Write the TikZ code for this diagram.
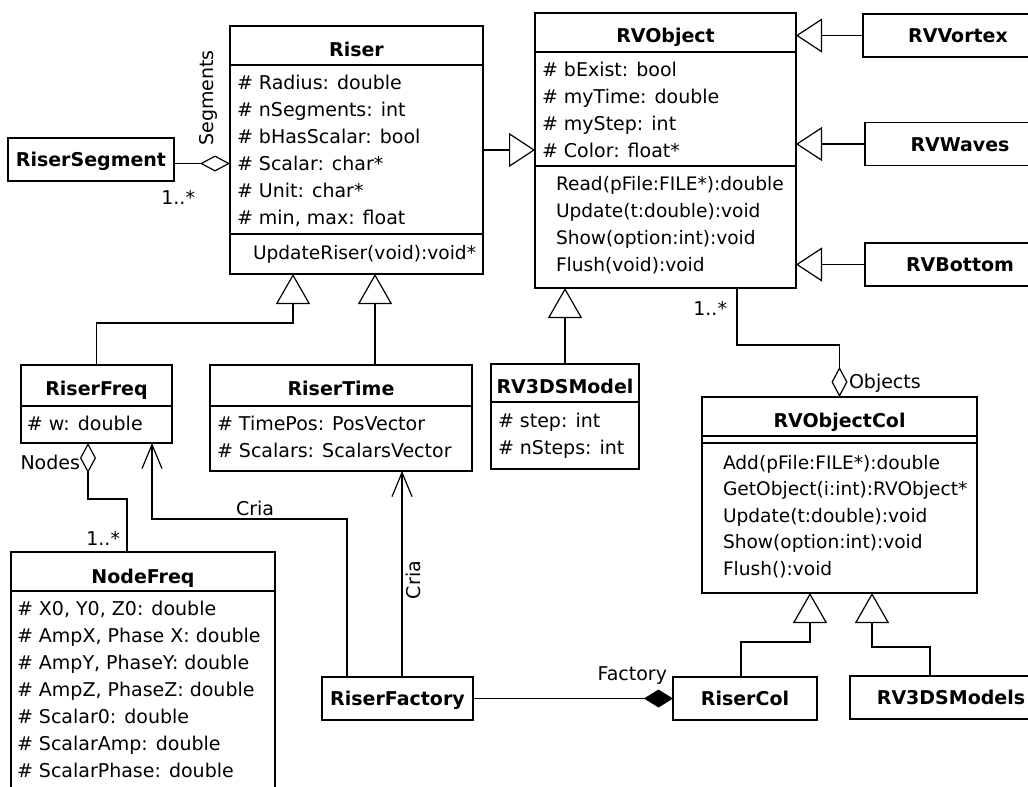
\documentclass[tikz,border=0pt]{standalone}
\usepackage{fontspec}
\setmainfont{DejaVu Sans}
\usetikzlibrary{arrows.meta}

% one text line per row of a class compartment
\newcommand\classrows[6]{%
  \foreach \t [count=\i] in {#6} {\node[#1] (#2-\i) at (#3, {#4+#5*(\i-1)}) {\t};}}
% horizontal divider inside a class box, #2 below its top edge
\newcommand\compline[2]{%
  \draw ([yshift=-#2pt]#1.north west) -- ([yshift=-#2pt]#1.north east);}

\begin{document}
\begin{tikzpicture}[x=1pt, y=-1pt, line width=1.2pt,
  every node/.style={inner sep=0pt, outer sep=0pt},
  box/.style={draw, anchor=north west},
  simple/.style={draw, font=\fontsize{19}{23}\selectfont\bfseries,
    text height=14pt, text depth=0pt, minimum height=43pt},
  ttl/.style={font=\fontsize{19}{23}\selectfont\bfseries, anchor=base},
  attr/.style={font=\fontsize{19}{23}\selectfont, anchor=base west},
  meth/.style={font=\fontsize{18.6}{23}\selectfont, anchor=base west},
  lbl/.style={font=\fontsize{19}{23}\selectfont},
  gen/.style={-{Triangle[open, length=26pt, width=34pt]}},
  genv/.style={-{Triangle[open, length=30pt, width=34pt]}},
  agg/.style={{Diamond[open, length=30pt, width=16pt]}-},
  comp/.style={{Diamond[length=29pt, width=18pt]}-},
  dep/.style={-{Straight Barb[length=24pt, width=20pt]}},
]
\useasboundingbox (0,0) rectangle (1028,787);
\fill[white] (0,0) rectangle (1028,787);
\clip (0,0) rectangle (1028,787);

% ---------- Riser ----------
\node[box, minimum width=253pt, minimum height=248pt] (riser) at (230,26) {};
\node[ttl] (riser-t) at (356.5,56) {Riser};
\compline{riser}{39}
\classrows{attr}{riser-a}{237}{89}{27}{{\# Radius: double},{\# nSegments: int},{\# bHasScalar: bool},{\# Scalar: char*},{\# Unit: char*},{\# min, max: float}}
\compline{riser}{208}
\classrows{meth}{riser-m}{253}{259}{27}{{UpdateRiser(void):void*}}

% ---------- RVObject ----------
\node[box, minimum width=261pt, minimum height=275pt] (rvobject) at (535,13) {};
\node[ttl] (rvobject-t) at (665.5,42) {RVObject};
\compline{rvobject}{39}
\classrows{attr}{rvobject-a}{542}{76}{27}{{\# bExist: bool},{\# myTime: double},{\# myStep: int},{\# Color: float*}}
\compline{rvobject}{153}
\classrows{meth}{rvobject-m}{556}{190}{27}{{Read(pFile:FILE*):double},{Update(t:double):void},{Show(option:int):void},{Flush(void):void}}

% ---------- RiserFreq ----------
\node[box, minimum width=151pt, minimum height=78pt] (riserfreq) at (21,365) {};
\node[ttl] (riserfreq-t) at (96.5,395) {RiserFreq};
\compline{riserfreq}{41}
\classrows{attr}{riserfreq-a}{27}{430}{27}{{\# w: double}}

% ---------- RiserTime ----------
\node[box, minimum width=262pt, minimum height=106pt] (risertime) at (210,365) {};
\node[ttl] (risertime-t) at (341,395) {RiserTime};
\compline{risertime}{41}
\classrows{attr}{risertime-a}{217}{430}{27}{{\# TimePos: PosVector},{\# Scalars: ScalarsVector}}

% ---------- RV3DSModel ----------
\node[box, minimum width=148pt, minimum height=105pt] (rv3ds) at (491,364) {};
\node[ttl] (rv3ds-t) at (565,393) {RV3DSModel};
\compline{rv3ds}{38}
\classrows{attr}{rv3ds-a}{498}{427}{27}{{\# step: int},{\# nSteps: int}}

% ---------- NodeFreq ----------
\node[box, minimum width=264pt, minimum height=260pt] (nodefreq) at (11,552) {};
\node[ttl] (nodefreq-t) at (143,583) {NodeFreq};
\compline{nodefreq}{39}
\classrows{attr}{nodefreq-a}{17}{615}{27}{{\# X0, Y0, Z0: double},{\# AmpX, Phase X: double},{\# AmpY, PhaseY: double},{\# AmpZ, PhaseZ: double},{\# Scalar0: double},{\# ScalarAmp: double},{\# ScalarPhase: double}}

% ---------- RVObjectCol ----------
\node[box, minimum width=275pt, minimum height=196pt] (rvobjcol) at (702,397) {};
\node[ttl] (rvobjcol-t) at (839.5,427) {RVObjectCol};
\compline{rvobjcol}{39}
\compline{rvobjcol}{46}
\classrows{meth}{rvobjcol-m}{723}{469}{26.5}{{Add(pFile:FILE*):double},{GetObject(i:int):RVObject*},{Update(t:double):void},{Show(option:int):void},{Flush():void}}

% ---------- name-only classes ----------
\node[simple, minimum width=166pt] (riserseg) at (91,159.5) {RiserSegment};
\node[simple, minimum width=190pt] (rvvortex) at (958,35.5) {RVVortex};
\node[simple, minimum width=190pt] (rvwaves) at (960,144) {RVWaves};
\node[simple, minimum width=190pt] (rvbottom) at (960,264.5) {RVBottom};
\node[simple, minimum width=151pt] (riserfactory) at (397.5,698.5) {RiserFactory};
\node[simple, minimum width=144pt] (risercol) at (745,698.5) {RiserCol};
\node[simple, minimum width=202pt] (rv3dsmodels) at (951,697.5) {RV3DSModels};

% ---------- generalizations ----------
\draw[gen] (riser.east) -- (riser.east -| rvobject.west);
\draw[gen] (rvvortex.west) -- (rvvortex.west -| rvobject.east);
\draw[gen] (rvwaves.west) -- (rvwaves.west -| rvobject.east);
\draw[gen] (rvbottom.west) -- (rvbottom.west -| rvobject.east);
\draw[genv] (riserfreq.north) -- ++(0,-42) -| ([xshift=-63.5pt]riser.south);
\coordinate (rtTop) at ([xshift=34pt]risertime.north);
\draw[genv] (rtTop) -- (rtTop |- riser.south);
\draw[genv] (rv3ds.north) -- (rv3ds.north |- rvobject.south);
\draw[genv] ([xshift=-4pt]risercol.north) -- ++(0,-35) -| ([xshift=-29.5pt]rvobjcol.south);
\draw[genv] ([xshift=-21pt]rv3dsmodels.north) -- ++(0,-29) -| ([xshift=32.5pt]rvobjcol.south);

% ---------- aggregations / composition ----------
\coordinate (segY) at ([yshift=-4pt]riserseg.east);
\draw[agg] (segY -| riser.west) -- (segY);
\draw[agg] ([xshift=-8.5pt]riserfreq.south) -- ++(0,56) -| ([xshift=-16pt]nodefreq.north);
\draw[agg] (rvobjcol.north) -- ++(0,-52) -| ([xshift=71.5pt]rvobject.south);
\draw[comp] (risercol.west) -- (riserfactory.east);

% ---------- dependencies ----------
\draw[dep] ([xshift=-50.5pt]riserfactory.north) -- ++(0,-158) -| ([xshift=55.5pt]riserfreq.south);
\coordinate (rfTop) at ([xshift=4.5pt]riserfactory.north);
\draw[dep] (rfTop) -- (rfTop |- risertime.south);

% ---------- role and multiplicity labels ----------
\node[lbl, rotate=90] (lbl-seg) at (208,98) {Segments};
\node[lbl, anchor=base east] (lbl-segm) at (195,204) {1..*};
\node[lbl, anchor=base east] (lbl-nodes) at (80,469) {Nodes};
\node[lbl, anchor=base east] (lbl-nodesm) at (120,545) {1..*};
\node[lbl, anchor=base west] (lbl-cria1) at (236,515) {Cria};
\node[lbl, rotate=90] (lbl-cria2) at (413,580) {Cria};
\node[lbl, anchor=base east] (lbl-objm) at (727,315) {1..*};
\node[lbl, anchor=base west] (lbl-obj) at (849,388) {Objects};
\node[lbl, anchor=base east] (lbl-fac) at (667,680) {Factory};
\end{tikzpicture}
\end{document}
